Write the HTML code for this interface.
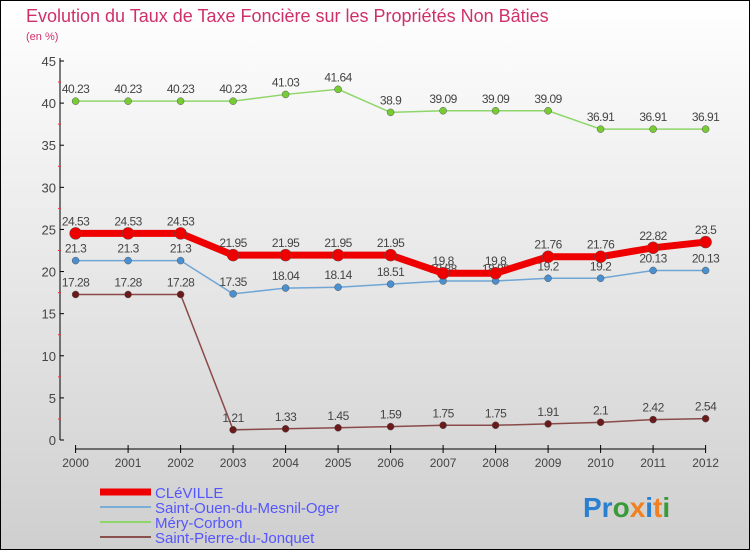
<!DOCTYPE html>
<html><head><meta charset="utf-8"><style>
body{margin:0}
#c{width:750px;height:550px;position:relative;font-family:"Liberation Sans",sans-serif}
</style></head><body>
<div id="c">
<svg id="s" width="750" height="550" xmlns="http://www.w3.org/2000/svg" font-family="Liberation Sans, sans-serif">
<defs><linearGradient id="bg" x1="0" y1="0" x2="0" y2="1"><stop offset="0" stop-color="#ffffff"/><stop offset="1" stop-color="#cfcfcf"/></linearGradient></defs>
<rect x="0.5" y="0.5" width="749" height="549" fill="url(#bg)" stroke="#000"/>
<text x="26" y="22" font-size="18" fill="#d0306a">Evolution du Taux de Taxe Foncière sur les Propriétés Non Bâties</text>
<text x="26" y="40" font-size="11" fill="#d0306a">(en %)</text>
<g id="axes"></g><g id="plot"></g>
<g>
<line x1="100" y1="492" x2="151" y2="492" stroke="#e00" stroke-width="7"/>
<text x="155" y="498" font-size="15" fill="#5555ff">CLéVILLE</text>
<line x1="100" y1="507" x2="151" y2="507" stroke="#7aaed6" stroke-width="2"/>
<text x="155" y="513" font-size="15" fill="#5555ff">Saint-Ouen-du-Mesnil-Oger</text>
<line x1="100" y1="522" x2="151" y2="522" stroke="#8fd66a" stroke-width="2"/>
<text x="155" y="528" font-size="15" fill="#5555ff">Méry-Corbon</text>
<line x1="100" y1="537" x2="151" y2="537" stroke="#8a5050" stroke-width="2"/>
<text x="155" y="543" font-size="15" fill="#5555ff">Saint-Pierre-du-Jonquet</text>
</g>
<text x="583" y="517" font-size="28" font-weight="bold"><tspan fill="#2a80d0">Pr</tspan><tspan fill="#3a9a3a">o</tspan><tspan fill="#f08020">x</tspan><tspan fill="#2a80d0">i</tspan><tspan fill="#f08020">t</tspan><tspan fill="#3a9a3a">i</tspan></text>
</svg></div>
<script>
const years=[2000,2001,2002,2003,2004,2005,2006,2007,2008,2009,2010,2011,2012];
const yTicks=[0,5,10,15,20,25,30,35,40,45];
const cleville=[24.53,24.53,24.53,21.95,21.95,21.95,21.95,19.8,19.8,21.76,21.76,22.82,23.5];
const saintOuen=[21.3,21.3,21.3,17.35,18.04,18.14,18.51,18.88,18.88,19.2,19.2,20.13,20.13];
const mery=[40.23,40.23,40.23,40.23,41.03,41.64,38.9,39.09,39.09,39.09,36.91,36.91,36.91];
const saintPierre=[17.28,17.28,17.28,1.21,1.33,1.45,1.59,1.75,1.75,1.91,2.1,2.42,2.54];
const NS="http://www.w3.org/2000/svg";
const X=i=>75.6+i*(705.6-75.6)/(years.length-1);
const Y=v=>440-v*(440-61)/45;
function mk(t,a,p){const e=document.createElementNS(NS,t);for(const k in a)e.setAttribute(k,a[k]);p.appendChild(e);return e;}
const ax=document.getElementById('axes'),pl=document.getElementById('plot');
let l=mk('line',{x1:60,y1:58,x2:60,y2:440,stroke:'#000'},ax);


l=mk('line',{x1:75,y1:449,x2:706,y2:449,stroke:'#000'},ax);


yTicks.forEach(v=>{
 mk('line',{x1:60,y1:Y(v),x2:64,y2:Y(v),stroke:'#000'},ax);
 if(v<45)mk('line',{x1:58,y1:Y(v+2.5),x2:61,y2:Y(v+2.5),stroke:'#e33'},ax);
 const t=mk('text',{x:56,y:Y(v)+5,'font-size':13,fill:'#444','text-anchor':'end'},ax);t.textContent=v;
 
 
});
years.forEach((y,i)=>{
 mk('line',{x1:X(i),y1:445,x2:X(i),y2:453,stroke:'#000'},ax);
 const t=mk('text',{x:X(i),y:467,'font-size':12,fill:'#444','text-anchor':'middle'},ax);t.textContent=y;
 
 
});
function series(d,col,w,r,name,dot){
 const p=mk('polyline',{points:d.map((v,i)=>X(i)+','+Y(v)).join(' '),fill:'none',stroke:col,'stroke-width':w},pl);
 
 
 d.forEach((v,i)=>{
  const c=mk('circle',{cx:X(i),cy:Y(v),r:r,fill:dot,stroke:'#555','stroke-width':0.5},pl);
  
  
  const t=mk('text',{x:X(i),y:Y(v)-8,'font-size':12,fill:'#444','text-anchor':'middle','letter-spacing':'-0.5'},pl);t.textContent=v;
  
  
 });
}
series(mery,'#8fd66a',1.5,3.5,'mery-corbon','#77cc33');
series(saintOuen,'#6fa6d6',1.5,3.5,'saint-ouen','#4a90d0');
series(saintPierre,'#8a4a4a',1.5,3.5,'saint-pierre','#6a1a1a');
series(cleville,'#ee0000',7,6,'cleville','#ee0000');
</script>
</body></html>
